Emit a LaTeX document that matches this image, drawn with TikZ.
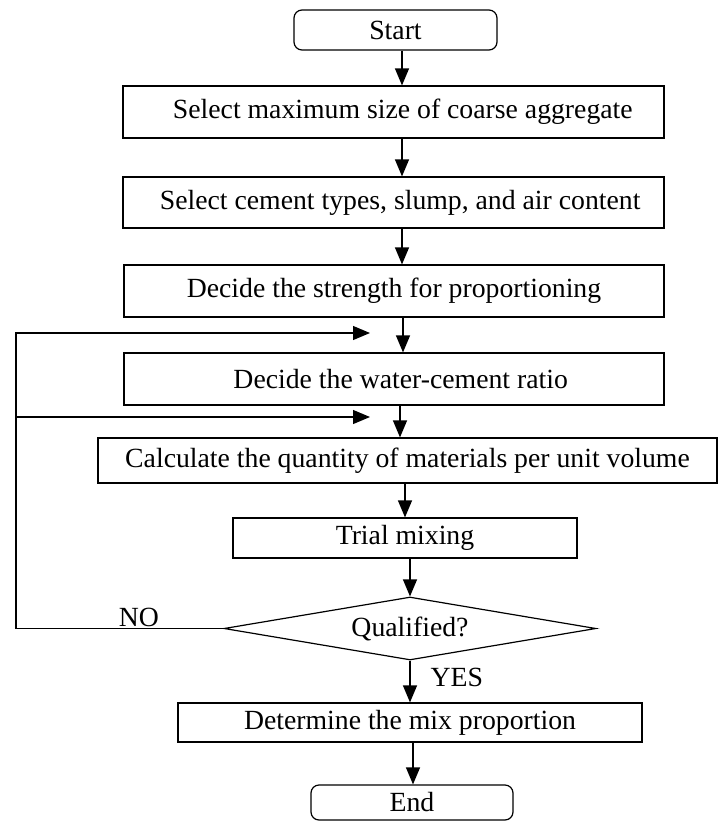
\documentclass[tikz,border=0pt]{standalone}
\usepackage{fontspec}
\setmainfont{Liberation Serif}
\usetikzlibrary{
    arrows.meta,
    positioning,
    calc,
    shapes.geometric
}

\begin{document}
\begin{tikzpicture}[
    x=0.75pt,
    y=-0.75pt,
    every node/.style={
        font=\fontsize{20.8pt}{25pt}\selectfont
    },
    procbox/.style={
        draw,
        line width=0.9pt,
        inner sep=0pt
    },
    termbox/.style={
        procbox,
        rounded corners=6pt
    },
    decision/.style={
        procbox,
        diamond,
        aspect=5.9
    },
    flowarrow/.style={
        line width=0.9pt,
        -{Triangle[width=10.5pt,length=12.75pt]}
    }
]

    \useasboundingbox (0,0) rectangle (719,822);

    % Process steps
    \node[termbox, minimum width=152.25pt, minimum height=30pt]
        (start) at (395.5,30) {Start};

    \node[procbox, minimum width=405.75pt, minimum height=39pt]
        (maxsize) at (393.5,112) {\hspace{14pt}Select maximum size of coarse aggregate};

    \node[procbox, minimum width=405.75pt, minimum height=38.25pt]
        (cement) at (393.5,202.5) {\hspace{10pt}Select cement types, slump, and air content};

    \node[procbox, minimum width=405pt, minimum height=39pt]
        (strength) at (394,291) {Decide the strength for proportioning};

    \node[procbox, minimum width=405pt, minimum height=39pt]
        (wcratio) at (394,379) {\hspace{10pt}Decide the water-cement ratio};

    \node[procbox, minimum width=464.25pt, minimum height=33.75pt]
        (quantity) at (407.5,460.5) {Calculate the quantity of materials per unit volume};

    \node[procbox, minimum width=258pt, minimum height=30pt]
        (trial) at (405,538) {Trial mixing};

    \node[decision, minimum width=279pt, minimum height=47.25pt]
        (qualified) at (410,628.5) {Qualified?};

    \node[procbox, minimum width=348pt, minimum height=29.25pt]
        (mixprop) at (410,722.5) {Determine the mix proportion};

    \node[termbox, minimum width=151.5pt, minimum height=26.25pt]
        (finish) at (412,802.5) {End};

    % Main flow
    \draw[flowarrow] ($(start.south)+(6.5,0)$) -- ($(maxsize.north)+(8.5,0)$);
    \draw[flowarrow] ($(maxsize.south)+(8.5,0)$) -- ($(cement.north)+(8.5,0)$);
    \draw[flowarrow] ($(cement.south)+(8.5,0)$) -- ($(strength.north)+(8,0)$);
    \draw[flowarrow] ($(strength.south)+(9,0)$) -- ($(wcratio.north)+(9,0)$);
    \draw[flowarrow] ($(wcratio.south)+(6,0)$) -- ($(quantity.north)+(-7.5,0)$);
    \draw[flowarrow] ($(quantity.south)+(-2.5,0)$) -- (trial.south |- quantity.south) -- (trial.north);
    \draw[flowarrow] ($(trial.south)+(5,0)$) -- (qualified.north);
    \draw[flowarrow] (qualified.south) -- (mixprop.north);
    \draw[flowarrow] ($(mixprop.south)+(3,0)$) -- ($(finish.north)+(1,0)$);

    % Feedback loop
    \coordinate (loopx) at (16,0);
    \coordinate (backone) at (370,333);
    \coordinate (backtwo) at (370,417);

    \draw[flowarrow] (qualified.west) -- (qualified.west -| loopx) |- (backone);
    \draw[flowarrow] (backtwo -| loopx) -- (backtwo);

    \node (nolabel) at (139,617) {NO};
    \node[anchor=west] (yeslabel) at (426,677) {YES};

\end{tikzpicture}
\end{document}
